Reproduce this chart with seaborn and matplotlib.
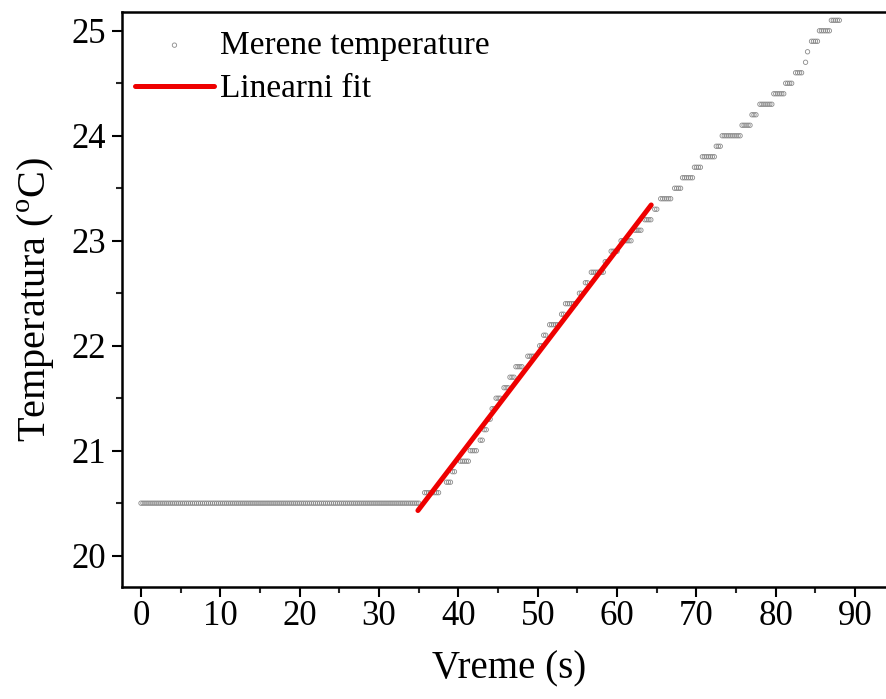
import numpy as np
import pandas as pd
import matplotlib
matplotlib.use("Agg")
import matplotlib.pyplot as plt
import seaborn as sns
from matplotlib.ticker import MultipleLocator

# nivoi temperature (korak 0.1 C) i vreme pocetka / kraja svakog nivoa (s)
levels = [20.5, 20.6, 20.7, 20.8, 20.9, 21.0, 21.1, 21.2, 21.3, 21.4,
          21.5, 21.6, 21.7, 21.8, 21.9, 22.0, 22.1, 22.2, 22.3, 22.4,
          22.5, 22.6, 22.7, 22.8, 22.9, 23.0, 23.1, 23.2, 23.3, 23.4,
          23.5, 23.6, 23.7, 23.8, 23.9, 24.0, 24.1, 24.2, 24.3, 24.4,
          24.5, 24.6, 24.7, 24.8, 24.9, 25.0, 25.1]
run_start = [0.0, 35.75, 38.5, 39.25, 40.25, 41.5, 42.75, 43.25, 43.75, 44.25,
             44.75, 45.75, 46.5, 47.25, 48.75, 50.25, 50.75, 51.5, 53.0, 53.5,
             55.25, 56.0, 56.75, 58.5, 59.25, 60.5, 62.25, 63.5, 64.75, 65.5,
             67.25, 68.25, 69.75, 70.75, 72.5, 73.25, 75.75, 77.0, 78.0, 79.75,
             81.25, 82.5, 83.75, 84.0, 84.5, 85.5, 87.0]
run_end = [35.0, 37.5, 39.0, 39.5, 41.25, 42.25, 43.0, 43.5, 44.0, 44.5,
           45.25, 46.25, 47.0, 48.0, 49.5, 50.5, 51.0, 52.5, 53.25, 54.75,
           55.5, 56.25, 58.25, 58.75, 60.0, 61.75, 63.0, 64.25, 65.0, 66.75,
           68.0, 69.5, 70.5, 72.25, 73.0, 75.5, 76.75, 77.5, 79.5, 81.0,
           82.0, 83.25, 83.75, 84.0, 85.25, 86.75, 88.0]
sample_step = 0.25

# linearni fit (procitano sa grafika)
fit_range = [34.9, 64.3]
fit_slope = 0.0990
fit_intercept = 16.975

# razvijanje nivoa u pojedinacna merenja
times, temps = [], []
for lvl, t0, t1 in zip(levels, run_start, run_end):
    t = np.arange(t0, t1 + 1e-9, sample_step)
    times.extend(t)
    temps.extend([lvl] * len(t))
df = pd.DataFrame({"Vreme": times, "Temperatura": temps})

fit_t = np.array(fit_range)
fit_df = pd.DataFrame({"Vreme": fit_t, "Temperatura": fit_intercept + fit_slope * fit_t})

sns.set_theme(style="ticks")
plt.rcParams["font.family"] = ["Liberation Serif", "DejaVu Serif"]
plt.rcParams["mathtext.fontset"] = "custom"
plt.rcParams["mathtext.rm"] = "Liberation Serif"
plt.rcParams["text.color"] = "black"
plt.rcParams["axes.labelcolor"] = "black"

fig = plt.figure(figsize=(8.87, 6.99), dpi=100)
ax = fig.add_axes([0.1375, 0.160, 0.874, 0.823])

sns.scatterplot(data=df, x="Vreme", y="Temperatura", ax=ax, marker="o", s=10,
                facecolors="none", edgecolor="#8a8a8a", linewidth=0.6,
                label="Merene temperature", zorder=2)
sns.lineplot(data=fit_df, x="Vreme", y="Temperatura", ax=ax, color="#ee0000",
             linewidth=3.6, label="Linearni fit", zorder=3)

ax.set_xlim(-2.4, 95.3)
ax.set_ylim(19.7, 25.18)
ax.xaxis.set_major_locator(MultipleLocator(10))
ax.xaxis.set_minor_locator(MultipleLocator(5))
ax.yaxis.set_major_locator(MultipleLocator(1))
ax.yaxis.set_minor_locator(MultipleLocator(0.5))

for side in ["left", "bottom", "top", "right"]:
    ax.spines[side].set_linewidth(1.8)
    ax.spines[side].set_color("black")
ax.tick_params(which="major", length=7, width=1.5, labelsize=25, colors="black")
ax.tick_params(axis="x", pad=2)
ax.tick_params(axis="y", pad=4.5)
ax.tick_params(which="minor", length=4.5, width=1.5)
ax.tick_params(top=False, right=False, which="both")

ax.set_xlabel("Vreme (s)", fontsize=28, labelpad=13)
ax.set_ylabel("Temperatura ($^{\\mathrm{o}}$C)", fontsize=29, labelpad=10)

leg = ax.legend(loc="upper left", bbox_to_anchor=(0.0, 0.991), frameon=False,
                fontsize=24, handlelength=2.35, handletextpad=0.2,
                borderaxespad=0.2, borderpad=0.2, labelspacing=0.39,
                scatterpoints=1, markerscale=1.0)

fig.savefig("out.png", dpi=100)
